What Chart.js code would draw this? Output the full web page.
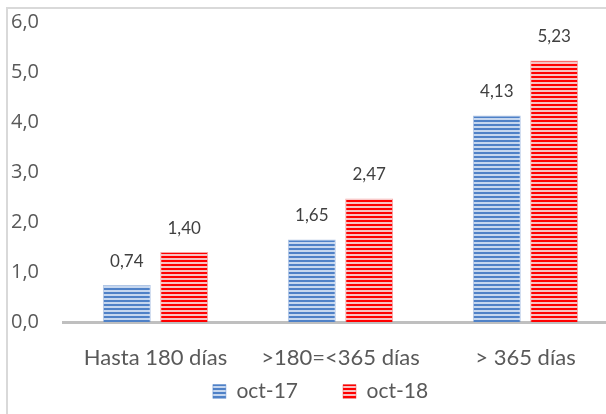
<!DOCTYPE html>
<html>
<head>
<meta charset="utf-8">
<script src="https://cdn.jsdelivr.net/npm/chart.js@4.4.0/dist/chart.umd.min.js"></script>
<style>
  html, body { margin: 0; padding: 0; background: #fff; overflow: hidden; }
  body { width: 606px; height: 414px; position: relative; }
  #frame { position: absolute; left: 6px; top: 7px; width: 640px; height: 430px;
           border-top: 2px solid #d9d9d9; border-left: 2px solid #d9d9d9; }
  #wrap { position: absolute; left: 0; top: 0; width: 630px; height: 414px; }
</style>
</head>
<body>
<div id="frame"></div>
<div id="wrap"><canvas id="myChart" width="630" height="414"></canvas></div>
<script>
// categories and values
var categories = ['Hasta 180 días', '>180=<365 días', '> 365 días'];
var oct17 = [0.74, 1.65, 4.13];
var oct18 = [1.40, 2.47, 5.23];
var seriesNames = ['oct-17', 'oct-18'];
var yTicks = [0, 1, 2, 3, 4, 5, 6];

// striped fill like the excel pattern
function stripes(dark, light) {
  var c = document.createElement('canvas');
  c.width = 4;
  c.height = 4;
  var g = c.getContext('2d');
  g.fillStyle = light;
  g.fillRect(0, 0, 4, 4);
  g.fillStyle = dark;
  g.fillRect(0, 0, 4, 2);
  return g.createPattern(c, 'repeat');
}

var bluePat = stripes('#4f81c7', '#c6d7ef');
var redPat = stripes('#ff0000', '#f7c2c2');

function fmt(v) {
  return v.toFixed(2).replace('.', ',');
}

// value labels above the bars
var barLabels = {
  id: 'barLabels',
  afterDatasetsDraw: function(chart) {
    var ctx = chart.ctx;
    ctx.save();
    ctx.font = '17px Lato';
    ctx.fillStyle = '#404040';
    ctx.textAlign = 'center';
    ctx.textBaseline = 'bottom';
    chart.data.datasets.forEach(function(ds, i) {
      var meta = chart.getDatasetMeta(i);
      meta.data.forEach(function(bar, j) {
        ctx.fillText(fmt(ds.data[j]), bar.x, bar.y - 15);
      });
    });
    ctx.restore();
  }
};

// the wide label padding makes the legend tall, so move its box by hand
var legendSpot = {
  id: 'legendSpot',
  afterLayout: function(chart) {
    var lg = chart.legend;
    lg.top = 336;
    lg.bottom = 414;
    lg.left += 6;
    lg.right += 6;
  }
};

var ctx = document.getElementById('myChart').getContext('2d');
var chart = new Chart(ctx, {
  type: 'bar',
  data: {
    labels: categories,
    datasets: [{
      label: seriesNames[0],
      data: oct17,
      backgroundColor: bluePat,
      borderColor: 'rgba(79,129,199,0.45)',
      borderWidth: 1,
      categoryPercentage: 0.62,
      barPercentage: 0.835
    }, {
      label: seriesNames[1],
      data: oct18,
      backgroundColor: redPat,
      borderColor: 'rgba(230,60,60,0.45)',
      borderWidth: 1,
      categoryPercentage: 0.62,
      barPercentage: 0.835
    }]
  },
  options: {
    responsive: false,
    animation: false,
    layout: { padding: { left: 11, right: 12, top: 22, bottom: 15.6 } },
    plugins: {
      legend: {
        position: 'bottom',
        maxHeight: 4,
        labels: {
          boxWidth: 13,
          boxHeight: 14,
          padding: 45,
          color: '#595959',
          font: { family: 'Lato', size: 21 }
        }
      },
      tooltip: { enabled: false }
    },
    scales: {
      x: {
        grid: { display: false, drawTicks: false },
        border: { color: '#bfbfbf', width: 3 },
        ticks: {
          color: '#595959',
          padding: 23,
          maxRotation: 0,
          font: { family: 'Lato', size: 22 }
        }
      },
      y: {
        min: 0,
        max: 6,
        afterFit: function(scale) { scale.width = 52; },
        afterBuildTicks: function(scale) {
          scale.ticks = yTicks.map(function(v) { return { value: v }; });
        },
        grid: { display: false, drawTicks: false },
        border: { display: false },
        ticks: {
          color: '#595959',
          padding: 0,
          crossAlign: 'far',
          font: { family: 'Open Sans', size: 20 },
          callback: function(v) { return v.toFixed(1).replace('.', ','); }
        }
      }
    }
  },
  plugins: [barLabels, legendSpot]
});
</script>
</body>
</html>
